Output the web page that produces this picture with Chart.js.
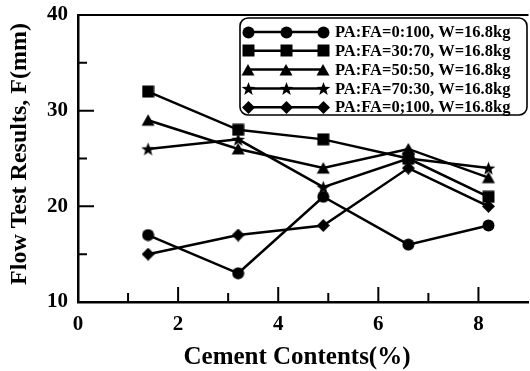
<!DOCTYPE html>
<html>
<head>
<meta charset="utf-8">
<script src="https://cdn.jsdelivr.net/npm/chart.js@4"></script>
<style>
  html, body { margin: 0; padding: 0; background: #fff; overflow: hidden; }
  #wrap { width: 537px; height: 371px; }
</style>
</head>
<body>
<div id="wrap"><canvas id="c" width="537" height="371"></canvas></div>
<script>
// Cement content (%) on the x axis
const cement = [1.4, 3.2, 4.9, 6.6, 8.2];
// Flow test results F (mm) for each mix
const flowA = [17, 13, 21, 16, 18];   // PA:FA=0:100
const flowB = [32, 28, 27, 25, 21];   // PA:FA=30:70
const flowC = [29, 26, 24, 26, 23];   // PA:FA=50:50
const flowD = [26, 27, 22, 25, 24];   // PA:FA=70:30
const flowE = [15, 17, 18, 24, 20];   // PA:FA=0;100
const seriesLabels = [
  'PA:FA=0:100, W=16.8kg',
  'PA:FA=30:70, W=16.8kg',
  'PA:FA=50:50, W=16.8kg',
  'PA:FA=70:30, W=16.8kg',
  'PA:FA=0;100, W=16.8kg'
];
const xTitle = 'Cement Contents(%)';
const yTitle = 'Flow Test Results, F(mm)';
const xMajorTicks = [0, 2, 4, 6, 8];
const xMinorTicks = [1, 3, 5, 7];
const yMajorTicks = [10, 20, 30, 40];
const yMinorTicks = [15, 25, 35];

const SERIF = '"Liberation Serif", "Times New Roman", serif';

// Filled marker sprites used as point styles
function sprite(size, draw) {
  const cv = document.createElement('canvas');
  cv.width = size; cv.height = size;
  const g = cv.getContext('2d');
  g.fillStyle = '#000';
  g.beginPath();
  draw(g, size / 2, size);
  g.fill();
  return cv;
}
const mCircle = sprite(13, (g, c) => { g.arc(c, c, 6, 0, Math.PI * 2); });
const mSquare = sprite(13, (g) => { g.rect(0.5, 0.5, 12, 12); });
const mTriangle = sprite(14, (g) => { g.moveTo(7, 1); g.lineTo(13.5, 12.5); g.lineTo(0.5, 12.5); g.closePath(); });
const mStar = sprite(15, (g, c) => {
  for (let i = 0; i < 10; i++) {
    const r = i % 2 === 0 ? 7.2 : 3.0;
    const a = -Math.PI / 2 + i * Math.PI / 5;
    const px = c + r * Math.cos(a), py = c + 0.6 + r * Math.sin(a);
    if (i === 0) g.moveTo(px, py); else g.lineTo(px, py);
  }
  g.closePath();
});
const mDiamond = sprite(13, (g, c) => { g.moveTo(c, 0); g.lineTo(13, c); g.lineTo(c, 13); g.lineTo(0, c); g.closePath(); });
const markers = [mCircle, mSquare, mTriangle, mStar, mDiamond];

function pts(ys) { return cement.map((x, i) => ({ x: x, y: ys[i] })); }
const allSeries = [flowA, flowB, flowC, flowD, flowE];

const datasets = allSeries.map((ys, i) => ({
  label: seriesLabels[i],
  data: pts(ys),
  borderColor: '#000',
  backgroundColor: '#000',
  borderWidth: 2.5,
  pointStyle: markers[i],
  pointRadius: 6,
  tension: 0
}));

// Top frame line and inward major/minor tick marks
const frameTicks = {
  id: 'frameTicks',
  afterDatasetsDraw(chart) {
    const { ctx, chartArea: a, scales } = chart;
    const xs = scales.x, ys = scales.y;
    ctx.save();
    ctx.strokeStyle = '#000';
    ctx.lineWidth = 2;
    ctx.beginPath();
    ctx.moveTo(a.left, a.top); ctx.lineTo(a.right, a.top);
    ctx.stroke();
    ctx.beginPath();
    xMajorTicks.forEach(v => { const p = xs.getPixelForValue(v); ctx.moveTo(p, a.bottom); ctx.lineTo(p, a.bottom - 15); });
    xMinorTicks.forEach(v => { const p = xs.getPixelForValue(v); ctx.moveTo(p, a.bottom); ctx.lineTo(p, a.bottom - 9); });
    yMajorTicks.forEach(v => { const p = ys.getPixelForValue(v); ctx.moveTo(a.left, p); ctx.lineTo(a.left + 16, p); });
    yMinorTicks.forEach(v => { const p = ys.getPixelForValue(v); ctx.moveTo(a.left, p); ctx.lineTo(a.left + 9, p); });
    ctx.stroke();
    ctx.restore();
  }
};

// Axis titles
const axisTitles = {
  id: 'axisTitles',
  afterDraw(chart) {
    const ctx = chart.ctx;
    ctx.save();
    ctx.fillStyle = '#000';
    ctx.textAlign = 'center';
    ctx.textBaseline = 'alphabetic';
    ctx.font = 'bold 25px ' + SERIF;
    ctx.fillText(xTitle, 297, 364);
    ctx.translate(26, 154);
    ctx.rotate(-Math.PI / 2);
    ctx.font = 'bold 24px ' + SERIF;
    ctx.fillText(yTitle, 0, 0);
    ctx.restore();
  }
};

// Boxed legend with three markers per row
const boxLegend = {
  id: 'boxLegend',
  afterDraw(chart) {
    const ctx = chart.ctx;
    const L = 240, T = 18, R = 527, B = 115, rad = 8;
    ctx.save();
    ctx.fillStyle = '#fff';
    ctx.strokeStyle = '#000';
    ctx.lineWidth = 1.6;
    ctx.beginPath();
    ctx.moveTo(L + rad, T); ctx.lineTo(R - rad, T); ctx.arcTo(R, T, R, T + rad, rad);
    ctx.lineTo(R, B - rad); ctx.arcTo(R, B, R - rad, B, rad);
    ctx.lineTo(L + rad, B); ctx.arcTo(L, B, L, B - rad, rad);
    ctx.lineTo(L, T + rad); ctx.arcTo(L, T, L + rad, T, rad);
    ctx.closePath();
    ctx.fill(); ctx.stroke();
    ctx.font = 'bold 16.5px ' + SERIF;
    ctx.textBaseline = 'middle';
    ctx.fillStyle = '#000';
    chart.data.datasets.forEach((ds, i) => {
      const y = 32 + i * 18.8;
      ctx.lineWidth = 2.5;
      ctx.beginPath(); ctx.moveTo(248, y); ctx.lineTo(323, y); ctx.stroke();
      const m = ds.pointStyle;
      [248, 286, 323].forEach(x => ctx.drawImage(m, Math.round(x - m.width / 2), Math.round(y - m.height / 2)));
      ctx.fillText(ds.label, 335, y + 1);
    });
    ctx.restore();
  }
};

new Chart(document.getElementById('c'), {
  type: 'line',
  data: { datasets: datasets },
  plugins: [frameTicks, boxLegend, axisTitles],
  options: {
    responsive: false,
    animation: false,
    layout: { padding: { left: 0, top: 15, right: 2, bottom: 0 } },
    plugins: { legend: { display: false }, tooltip: { enabled: false } },
    scales: {
      x: {
        type: 'linear', min: 0, max: 9,
        afterBuildTicks: s => { s.ticks = xMajorTicks.map(v => ({ value: v })); },
        afterFit: s => { s.height = 69; s.paddingLeft = 0; s.paddingRight = 0; },
        grid: { display: false, drawTicks: false },
        border: { display: true, color: '#000', width: 2.5 },
        ticks: { color: '#000', padding: 10, maxRotation: 0, font: { family: SERIF, size: 21, weight: 'bold' } }
      },
      y: {
        type: 'linear', min: 10, max: 40,
        afterBuildTicks: s => { s.ticks = yMajorTicks.map(v => ({ value: v })); },
        afterFit: s => { s.width = 78; s.paddingTop = 0; s.paddingBottom = 0; },
        grid: { display: false, drawTicks: false },
        border: { display: true, color: '#000', width: 2.5 },
        ticks: { color: '#000', padding: 10, font: { family: SERIF, size: 21, weight: 'bold' } }
      }
    }
  }
});
</script>
</body>
</html>
